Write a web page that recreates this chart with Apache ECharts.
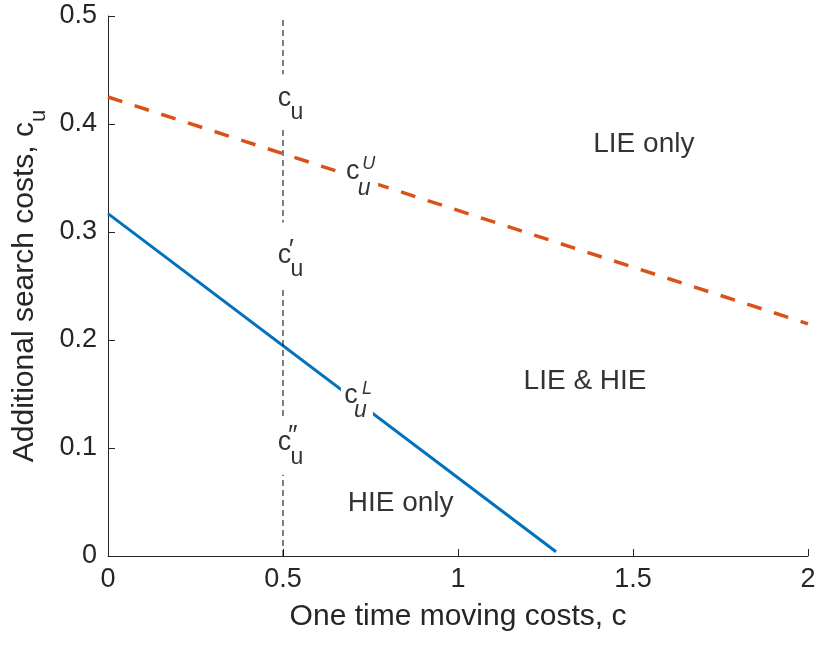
<!DOCTYPE html>
<html>
<head>
<meta charset="utf-8">
<script src="https://cdn.jsdelivr.net/npm/echarts@6/dist/echarts.min.js"></script>
<style>
  html, body { margin: 0; padding: 0; background: #fff; }
  #chart { width: 818px; height: 648px; }
</style>
</head>
<body>
<div id="chart"></div>
<script>
// data
var upperX = [0, 2];
var upperY = [0.425, 0.215];
var lowerX = [0, 1.28];
var lowerY = [0.317, 0.004];
var markX = [0.5, 0.5];
var markY = [0, 0.5];
var regionNames = ['LIE only', 'LIE & HIE', 'HIE only'];
var regionX = [1.531, 1.363, 0.836];
var regionY = [0.381, 0.162, 0.049];
// c_u labels, superscript of each
var noteX = [0.504, 0.504, 0.504, 0.699, 0.694];
var noteY = [0.422, 0.276, 0.103, 0.354, 0.147];
var noteSup = ['', '\u2032', '\u2033', 'U', 'L'];

var font = "'Liberation Sans', Arial, Helvetica, sans-serif";

function pairs(xs, ys) {
    var out = [];
    for (var i = 0; i < xs.length; i++) out.push([xs[i], ys[i]]);
    return out;
}

// pixel offsets of the pieces around each "c"
var subOff = [[12.5, 14], [12.5, 14], [12.5, 15], [11.5, 16.5], [9.5, 15]];
var supOff = [[0, 0], [7, -12.5], [8.5, -13], [16, -10], [16, -8]];
var boxOff = [[5.5, 1], [5.5, -3.5], [5.5, 2.5], [6.5, 3], [6, 4]];
var boxSize = [[30, 54], [30, 64], [30, 55], [38, 43], [32, 37]];

var boxes = [];
var texts = [];
for (var i = 0; i < noteX.length; i++) {
    var italic = (noteSup[i] === 'U' || noteSup[i] === 'L');
    var isPrime = !italic && noteSup[i] !== '';
    boxes.push({
        value: [noteX[i], noteY[i]],
        symbolSize: boxSize[i],
        symbolOffset: boxOff[i]
    });
    texts.push({
        value: [noteX[i], noteY[i]],
        label: { formatter: 'c', fontSize: 27, offset: [0, -2] }
    });
    texts.push({
        value: [noteX[i], noteY[i]],
        label: {
            formatter: 'u', fontSize: 23,
            fontStyle: italic ? 'italic' : 'normal',
            offset: [subOff[i][0], subOff[i][1] - 2]
        }
    });
    if (noteSup[i] !== '') {
        texts.push({
            value: [noteX[i], noteY[i]],
            label: {
                formatter: noteSup[i],
                fontSize: isPrime ? 27 : 18,
                fontStyle: italic ? 'italic' : 'normal',
                offset: [supOff[i][0], supOff[i][1] + (isPrime ? 5 : 0)]
            }
        });
    }
}
// region names
for (var j = 0; j < regionNames.length; j++) {
    texts.push({
        value: [regionX[j], regionY[j]],
        label: { formatter: regionNames[j], fontSize: 28 }
    });
}

var axisColor = '#262626';
var chart = echarts.init(document.getElementById('chart'));
var option = {
    animation: false,
    backgroundColor: '#fff',
    textStyle: { fontFamily: font },
    grid: {
        left: 108, right: 10, top: 16, bottom: 92,
        outerBoundsMode: 'none'
    },
    xAxis: {
        type: 'value',
        min: 0, max: 2, interval: 0.5,
        name: 'One time moving costs, c',
        nameLocation: 'middle',
        nameGap: 46,
        nameMoveOverlap: false,
        nameTextStyle: { fontSize: 30, color: axisColor, fontFamily: font },
        axisLine: { show: true, onZero: false, lineStyle: { color: axisColor, width: 1 } },
        axisTick: { show: true, inside: true, length: 7, lineStyle: { color: axisColor } },
        axisLabel: { fontSize: 27, color: axisColor, margin: 10, fontFamily: font,
            showMinLabel: true, showMaxLabel: true },
        splitLine: { show: false }
    },
    yAxis: {
        type: 'value',
        min: 0, max: 0.5, interval: 0.1,
        name: '{m|Additional search costs, c}{s|u}',
        nameLocation: 'middle',
        nameGap: 58,
        nameMoveOverlap: false,
        nameTextStyle: {
            color: axisColor,
            rich: {
                m: { fontSize: 30, lineHeight: 30, verticalAlign: 'top', fontFamily: font, color: axisColor },
                s: { fontSize: 22, lineHeight: 40, verticalAlign: 'bottom', fontFamily: font, color: axisColor }
            }
        },
        axisLine: { show: true, onZero: false, lineStyle: { color: axisColor, width: 1 } },
        axisTick: { show: true, inside: true, length: 7, lineStyle: { color: axisColor } },
        axisLabel: { fontSize: 27, color: axisColor, margin: 11, fontFamily: font,
            showMinLabel: true, showMaxLabel: true },
        splitLine: { show: false }
    },
    series: [
        {
            // c_u^U
            type: 'line',
            data: pairs(upperX, upperY),
            showSymbol: false,
            z: 2,
            lineStyle: { color: '#D95319', width: 3.5, type: [15, 13] }
        },
        {
            // c_u^L
            type: 'line',
            data: pairs(lowerX, lowerY),
            showSymbol: false,
            z: 2,
            lineStyle: { color: '#0072BD', width: 3 }
        },
        {
            type: 'line',
            data: pairs(markX, markY),
            showSymbol: false,
            z: 2,
            lineStyle: { color: '#000', width: 1, type: [6, 4] }
        },
        {
            // white patches behind the labels
            type: 'scatter',
            symbol: 'rect',
            data: boxes,
            z: 3,
            silent: true,
            itemStyle: { color: '#fff', opacity: 1 }
        },
        {
            type: 'scatter',
            symbolSize: 0,
            data: texts,
            z: 4,
            silent: true,
            label: {
                show: true,
                position: 'inside',
                color: '#000',
                fontFamily: font
            }
        }
    ]
};
chart.setOption(option);
</script>
</body>
</html>
